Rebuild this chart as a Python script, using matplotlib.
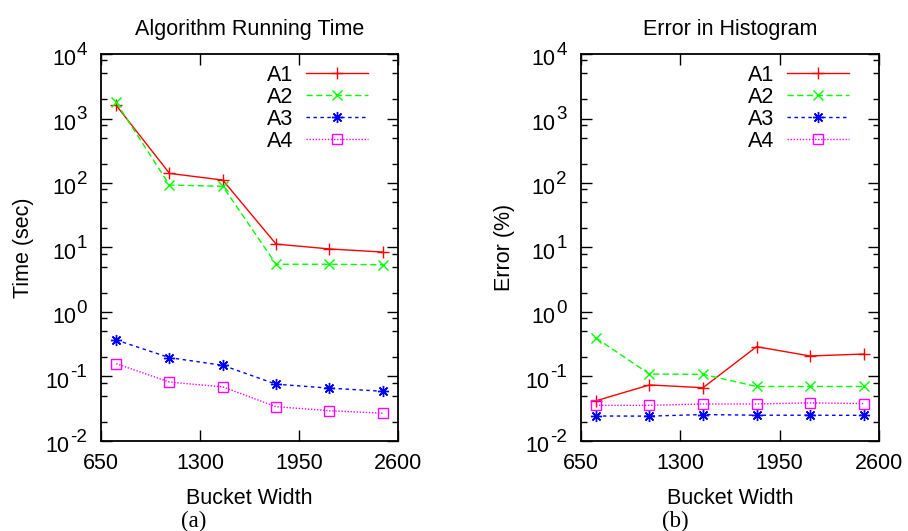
import matplotlib
matplotlib.use("Agg")
import matplotlib.pyplot as plt
from matplotlib.ticker import LogLocator, FixedLocator, NullFormatter

plt.rcParams["font.family"] = ["Liberation Sans", "DejaVu Sans"]

# data
bucket_width = [750, 1100, 1450, 1800, 2150, 2500]
labels = ["A1", "A2", "A3", "A4"]

time_a1 = [1600, 141, 111, 11.3, 9.5, 8.5]
time_a2 = [1780, 93, 89, 5.5, 5.5, 5.4]
time_a3 = [0.368, 0.196, 0.149, 0.076, 0.066, 0.059]
time_a4 = [0.158, 0.082, 0.069, 0.034, 0.0295, 0.027]

err_a1 = [0.042, 0.074, 0.067, 0.29, 0.208, 0.223]
err_a2 = [0.395, 0.109, 0.108, 0.070, 0.070, 0.070]
err_a3 = [0.0244, 0.0243, 0.0257, 0.0251, 0.0251, 0.025]
err_a4 = [0.0357, 0.0357, 0.0375, 0.0375, 0.039, 0.038]

x_ticks = [650, 1300, 1950, 2600]
y_exponents = [-2, -1, 0, 1, 2, 3, 4]

styles = [
    dict(color="#ff0000", linestyle="-", marker="+", markersize=8, markeredgewidth=1),
    dict(color="#00ff00", linestyle=(0, (4.5, 2.5)), marker="x", markersize=7.5, markeredgewidth=1),
    dict(color="#0000ff", linestyle=(0, (2.5, 2.5)), marker=(8, 2, 0), markersize=8, markeredgewidth=1),
    dict(color="#ff00ff", linestyle=(0, (1, 1.2)), marker="s", markersize=7,
         markerfacecolor="none", markeredgewidth=1),
]

FS = 15.5

fig = plt.figure(figsize=(9.08, 5.31), dpi=100)
ax1 = fig.add_axes([0.1112, 0.1695, 0.327, 0.7288])
ax2 = fig.add_axes([0.6395, 0.1695, 0.3285, 0.7288])


def log_labels(ax):
    # gnuplot style "10^n" labels with a big exponent
    trans = ax.get_yaxis_transform()
    for e in y_exponents:
        sup = ax.annotate(str(e), xy=(0, 10.0 ** e), xycoords=trans,
                          xytext=(-10, -0.5), textcoords="offset points",
                          ha="right", va="baseline", fontsize=13.5,
                          annotation_clip=False)
        ax.annotate("10", xy=(0, 10.0 ** e), xycoords=(sup, trans),
                    xytext=(-0.5, -8), textcoords="offset points",
                    ha="right", va="baseline", fontsize=FS,
                    annotation_clip=False)


def setup(ax, series, title, ylabel, ylab_x):
    for ys, lab, st in zip(series, labels, styles):
        ax.plot(bucket_width, ys, label=lab, linewidth=1, **st)
    ax.set_yscale("log")
    ax.set_xlim(650, 2600)
    ax.set_ylim(1e-2, 1e4)
    ax.xaxis.set_major_locator(FixedLocator(x_ticks))
    ax.yaxis.set_major_locator(LogLocator(base=10, numticks=10))
    ax.yaxis.set_minor_locator(LogLocator(base=10, subs=[2, 5, 8], numticks=20))
    ax.yaxis.set_minor_formatter(NullFormatter())
    ax.tick_params(which="both", direction="in", top=True, right=True, labelsize=FS)
    ax.tick_params(which="major", length=8, width=1)
    ax.tick_params(which="minor", length=4, width=1)
    ax.tick_params(axis="x", pad=9)
    ax.tick_params(axis="y", labelleft=False)
    for sp in ax.spines.values():
        sp.set_linewidth(1.3)
    log_labels(ax)
    ax.set_title(title, fontsize=FS, pad=14)
    ax.set_xlabel("Bucket Width", fontsize=FS, labelpad=10)
    ax.set_ylabel(ylabel, fontsize=FS)
    ax.yaxis.set_label_coords(ylab_x, 0.5)
    ax.legend(loc="upper right", bbox_to_anchor=(0.93, 0.995), frameon=False,
              markerfirst=False, handlelength=2.9, numpoints=1, fontsize=FS,
              labelspacing=0.05, borderaxespad=0, handletextpad=0.6)


setup(ax1, [time_a1, time_a2, time_a3, time_a4], "Algorithm Running Time", "Time (sec)", -0.226)
setup(ax2, [err_a1, err_a2, err_a3, err_a4], "Error in Histogram", "Error (%)", -0.220)

fig.text(194 / 908, 1 - 521 / 531, "(a)", family="Liberation Serif", fontsize=16.5,
         ha="center", va="center")
fig.text(675 / 908, 1 - 521 / 531, "(b)", family="Liberation Serif", fontsize=16.5,
         ha="center", va="center")

fig.savefig("out.png", dpi=100)
